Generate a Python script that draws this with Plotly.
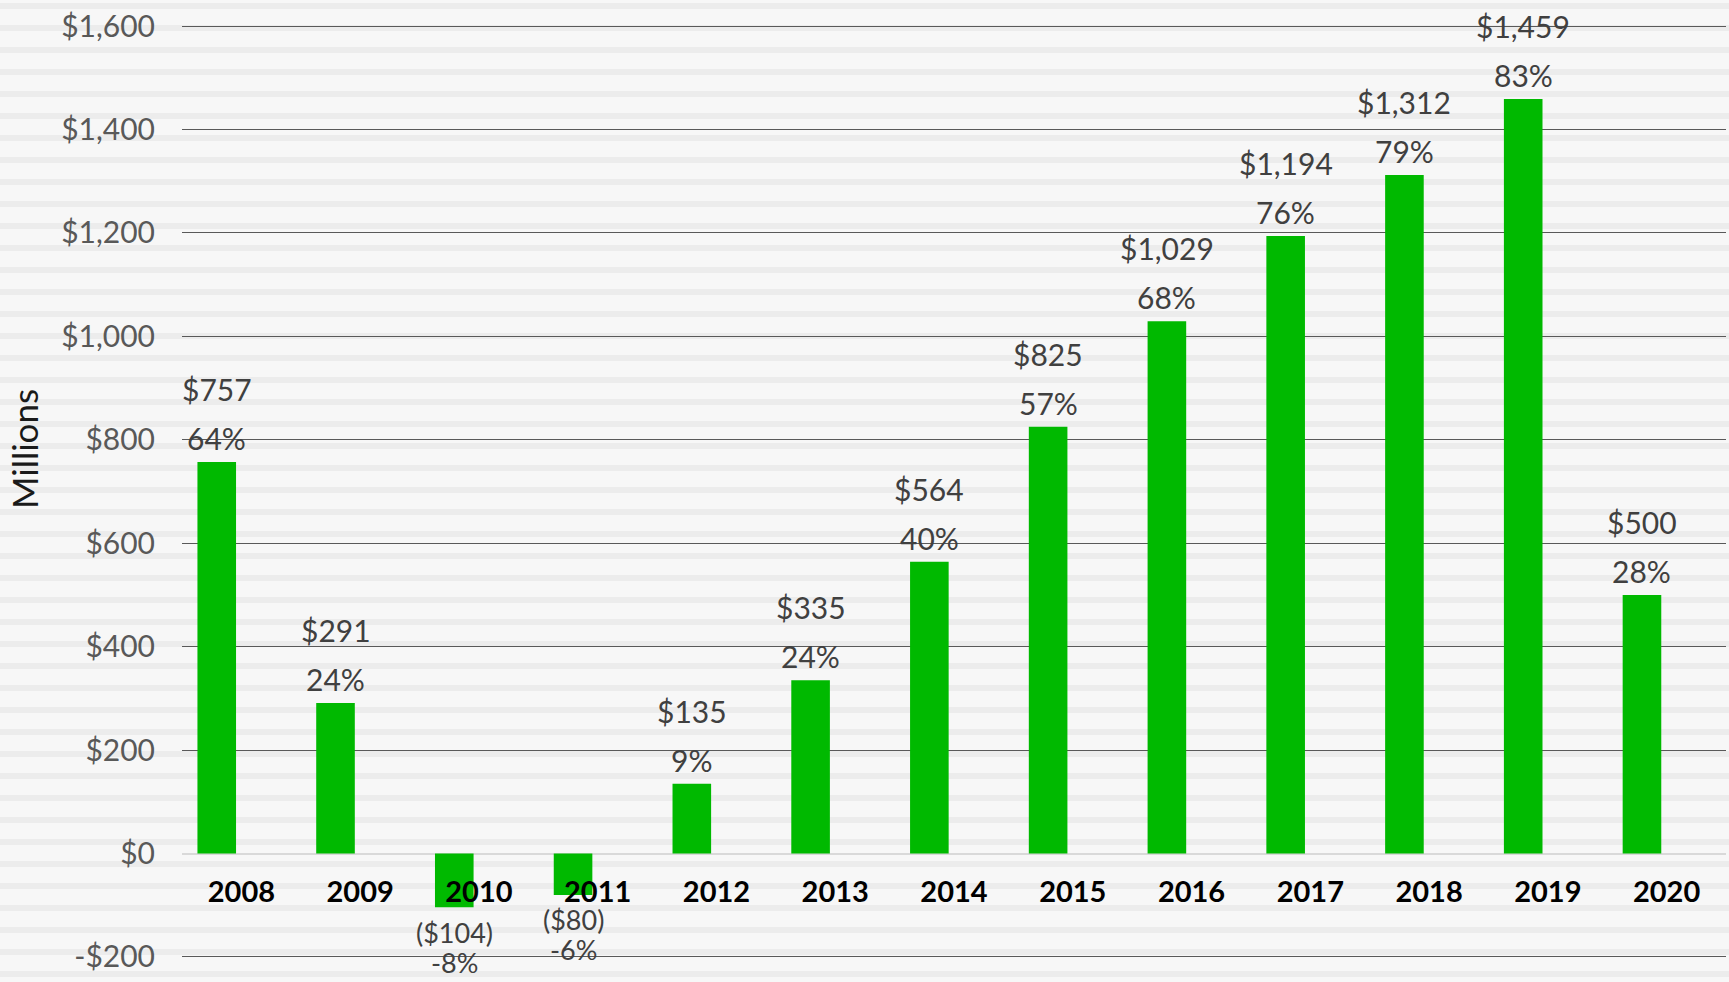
import plotly.graph_objects as go

years = ["2008", "2009", "2010", "2011", "2012", "2013", "2014", "2015", "2016", "2017", "2018", "2019", "2020"]
values = [757, 291, -104, -80, 135, 335, 564, 825, 1029, 1194, 1312, 1459, 500]
percents = [64, 24, -8, -6, 9, 24, 40, 57, 68, 76, 79, 83, 28]
tick_vals = [-200, 0, 200, 400, 600, 800, 1000, 1200, 1400, 1600]
tick_text = ["-$200", "$0", "$200", "$400", "$600", "$800", "$1,000", "$1,200", "$1,400", "$1,600"]

W, H = 1729, 982
ML, MR, MT, MB = 182, 3, 25, 24
PH = H - MT - MB
FONT = "Lato"
BAR_W = 0.325
BAR_OFF = -0.37
Y_MIN, Y_MAX = -202, 1602


def money(v):
    return f"(${abs(v):,})" if v < 0 else f"${v:,}"


fig = go.Figure()
fig.add_trace(go.Bar(
    x=years, y=values, marker=dict(color="#00b900", line=dict(width=0)),
    width=BAR_W, offset=BAR_OFF, hoverinfo="skip",
))

annotations = []
centre = BAR_OFF + BAR_W / 2
for i, (v, p) in enumerate(zip(values, percents)):
    pos = v >= 0
    common = dict(xref="x", yref="y", x=i + centre, y=v, showarrow=False,
                  font=dict(family=FONT, size=30 if pos else 27, color="#404040"),
                  yanchor="middle")
    annotations.append(dict(common, text=money(v), yshift=73 if pos else -25))
    annotations.append(dict(common, text=f"{p}%", yshift=24 if pos else -55))

annotations.append(dict(
    xref="paper", yref="paper", x=(24 - ML) / (W - ML - MR), y=(H - MB - 449) / PH,
    text="Millions", textangle=-90, showarrow=False,
    font=dict(family=FONT, size=35, color="#1a1a1a"), xanchor="center", yanchor="middle",
))

shapes = []
py = 3
while py < H:
    y0 = (H - MB - py) / PH
    y1 = (H - MB - (py + 6)) / PH
    shapes.append(dict(type="rect", xref="paper", yref="paper",
                       x0=-ML / (W - ML - MR) - 0.01, x1=1 + MR / (W - ML - MR) + 0.01,
                       y0=y1, y1=y0, fillcolor="#ececec", line=dict(width=0), layer="below"))
    py += 22

fig.update_layout(
    width=W, height=H,
    margin=dict(l=ML, r=MR, t=MT, b=MB, pad=0),
    paper_bgcolor="#f7f7f7", plot_bgcolor="rgba(0,0,0,0)",
    showlegend=False,
    annotations=annotations,
    shapes=shapes,
    xaxis=dict(type="category", range=[-0.5, 12.5], anchor="free",
               position=(0 - Y_MIN) / (Y_MAX - Y_MIN),
               showgrid=False, showline=False, ticks="", ticklabelstandoff=18,
               tickfont=dict(family=FONT, size=29, color="#000000", weight="bold"),
               fixedrange=True),
    yaxis=dict(range=[Y_MIN, Y_MAX], tickvals=tick_vals, ticktext=tick_text,
               showgrid=True, gridcolor="#595959", gridwidth=1.3,
               zeroline=True, zerolinecolor="#d9d9d9", zerolinewidth=2,
               showline=False, ticks="", ticklabelstandoff=26,
               tickfont=dict(family=FONT, size=30, color="#595959"), fixedrange=True),
)

fig.write_html(
    "out.html",
    config={"displayModeBar": False},
    post_script="document.body.style.margin='0';document.body.style.background='#f7f7f7';",
)
